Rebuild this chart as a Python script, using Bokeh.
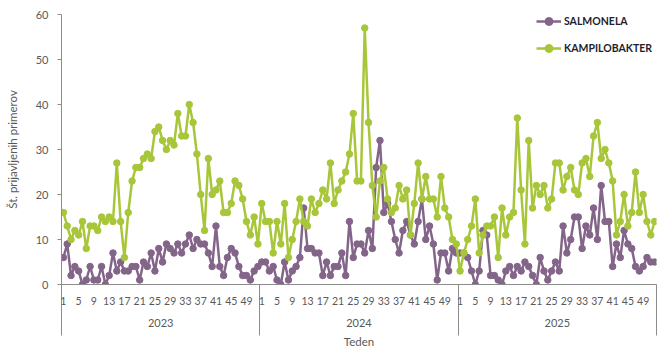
from bokeh.plotting import figure
from bokeh.models import Range1d, FixedTicker, LinearAxis, Legend, LegendItem
from bokeh.embed import file_html
from bokeh.resources import INLINE

years = ["2023", "2024", "2025"]
weeks_per_year = 52
week_tick_labels = [1, 5, 9, 13, 17, 21, 25, 29, 33, 37, 41, 45, 49]

salmonela_2023 = [6, 9, 2, 4, 3, 0, 1, 4, 1, 1, 4, 0, 2, 7, 3, 5, 3, 3, 4, 4,
                  1, 5, 4, 7, 3, 8, 5, 9, 8, 7, 9, 7, 9, 11, 8, 10, 9, 9, 7, 4,
                  13, 4, 2, 6, 8, 7, 4, 2, 2, 1, 3, 4]
salmonela_2024 = [5, 5, 3, 4, 1, 0, 5, 1, 3, 4, 6, 17, 8, 8, 7, 7, 2, 5, 2, 4,
                  4, 7, 2, 14, 6, 9, 9, 7, 12, 8, 26, 32, 16, 18, 14, 10, 7, 12, 14, 11,
                  9, 14, 19, 10, 13, 9, 1, 7, 7, 3, 8, 7]
salmonela_2025 = [7, 7, 6, 3, 0, 3, 12, 11, 2, 2, 1, 0, 3, 4, 2, 4, 3, 5, 4, 2,
                  0, 6, 3, 1, 3, 5, 3, 13, 7, 10, 15, 15, 8, 13, 11, 17, 10, 22, 14, 14,
                  4, 9, 6, 12, 9, 8, 4, 3, 4, 6, 5, 5]

kampilobakter_2023 = [16, 13, 10, 12, 11, 14, 8, 13, 13, 12, 15, 14, 15, 14, 27, 14, 6, 16, 23, 26,
                      26, 28, 29, 28, 34, 35, 32, 30, 32, 31, 38, 33, 33, 40, 36, 29, 20, 12, 28, 20,
                      21, 23, 16, 16, 18, 23, 22, 19, 14, 11, 15, 9]
kampilobakter_2024 = [18, 14, 14, 7, 14, 9, 18, 6, 10, 14, 19, 14, 13, 19, 16, 18, 21, 19, 27, 18,
                      21, 23, 25, 29, 38, 23, 23, 57, 36, 22, 15, 23, 26, 19, 16, 17, 22, 19, 21, 11,
                      18, 27, 19, 24, 19, 19, 15, 24, 17, 15, 10, 9]
kampilobakter_2025 = [3, 7, 10, 13, 19, 7, 11, 13, 13, 15, 6, 17, 11, 15, 16, 37, 21, 9, 32, 17,
                      22, 20, 22, 17, 19, 27, 27, 21, 24, 26, 21, 20, 27, 28, 24, 33, 36, 28, 30, 27,
                      23, 11, 14, 20, 13, 16, 25, 16, 20, 14, 11, 14]

y_ticks = [0, 10, 20, 30, 40, 50, 60]

PURPLE = "#84658A"
GREEN = "#A8C639"
AXIS_GREY = "#8C8C8C"
TEXT_GREY = "#595959"
FONT = "Lato"
SEP_LEN = 51

salmonela = salmonela_2023 + salmonela_2024 + salmonela_2025
kampilobakter = kampilobakter_2023 + kampilobakter_2024 + kampilobakter_2025
n = len(salmonela)
xs = [i + 0.5 for i in range(n)]

p = figure(width=670, height=356, output_backend="svg", toolbar_location=None,
           x_range=Range1d(0, n), y_range=Range1d(0, 60),
           min_border_left=61, min_border_right=14, min_border_top=14, min_border_bottom=72)
p.outline_line_color = None
p.xgrid.visible = False
p.ygrid.visible = False
p.background_fill_color = None
p.border_fill_color = "white"

# Y axis
ya = p.yaxis[0]
ya.ticker = FixedTicker(ticks=y_ticks, minor_ticks=[])
ya.axis_line_color = AXIS_GREY
ya.major_tick_line_color = AXIS_GREY
ya.major_tick_out = 4
ya.major_tick_in = 0
ya.minor_tick_line_color = None
ya.major_label_text_font = FONT
ya.major_label_text_font_size = "11px"
ya.major_label_text_color = TEXT_GREY
ya.major_label_standoff = 9
ya.axis_label = "Št. prijavljenih primerov"
ya.axis_label_text_font = FONT
ya.axis_label_text_font_size = "11.5px"
ya.axis_label_text_font_style = "normal"
ya.axis_label_text_color = TEXT_GREY
ya.axis_label_standoff = 14

# X axis (weeks) with year separators as long minor ticks
week_pos = []
overrides = {}
for k in range(len(years)):
    for w in week_tick_labels:
        pos = k * weeks_per_year + (w - 1) + 0.5
        week_pos.append(pos)
        overrides[pos] = str(w)
bounds = [k * weeks_per_year for k in range(len(years) + 1)]

xa = p.xaxis[0]
xa.ticker = FixedTicker(ticks=week_pos, minor_ticks=bounds)
xa.major_label_overrides = overrides
xa.axis_line_color = AXIS_GREY
xa.major_tick_line_color = None
xa.major_tick_out = 0
xa.major_tick_in = 0
xa.minor_tick_line_color = AXIS_GREY
xa.minor_tick_out = SEP_LEN
xa.minor_tick_in = 0
xa.major_label_text_font = FONT
xa.major_label_text_font_size = "10.5px"
xa.major_label_text_color = TEXT_GREY
xa.major_label_standoff = 12 - SEP_LEN

# Year axis
year_pos = [k * weeks_per_year + weeks_per_year / 2 for k in range(len(years))]
ya2 = LinearAxis(ticker=FixedTicker(ticks=year_pos, minor_ticks=[]),
                 major_label_overrides={pos: yr for pos, yr in zip(year_pos, years)})
ya2.axis_line_color = None
ya2.major_tick_line_color = None
ya2.minor_tick_line_color = None
ya2.major_tick_out = 0
ya2.major_tick_in = 0
ya2.minor_tick_out = 0
ya2.minor_tick_in = 0
ya2.major_label_text_font = FONT
ya2.major_label_text_font_size = "11px"
ya2.major_label_text_color = TEXT_GREY
ya2.major_label_standoff = 11
ya2.axis_label = "Teden"
ya2.axis_label_text_font = FONT
ya2.axis_label_text_font_size = "11.5px"
ya2.axis_label_text_font_style = "normal"
ya2.axis_label_text_color = TEXT_GREY
ya2.axis_label_standoff = 5
p.add_layout(ya2, "below")

# Series
l1 = p.line(xs, salmonela, line_color=PURPLE, line_width=2.5)
s1 = p.scatter(xs, salmonela, size=6.5, fill_color=PURPLE, line_color=PURPLE)
l2 = p.line(xs, kampilobakter, line_color=GREEN, line_width=2.5)
s2 = p.scatter(xs, kampilobakter, size=6.5, fill_color=GREEN, line_color=GREEN)

legend = Legend(items=[LegendItem(label="SALMONELA", renderers=[l1, s1]),
                       LegendItem(label="KAMPILOBAKTER", renderers=[l2, s2])],
                location=(475, 226))
legend.border_line_color = None
legend.background_fill_alpha = 0
legend.padding = 0
legend.margin = 0
legend.spacing = 7
legend.glyph_width = 25
legend.glyph_height = 20
legend.label_height = 20
legend.label_standoff = 3
legend.label_text_font = FONT
legend.label_text_font_size = "10.5px"
legend.label_text_font_style = "bold"
legend.label_text_color = "#1E1E2E"
p.add_layout(legend)

open("out.html", "w").write(file_html(p, INLINE))
